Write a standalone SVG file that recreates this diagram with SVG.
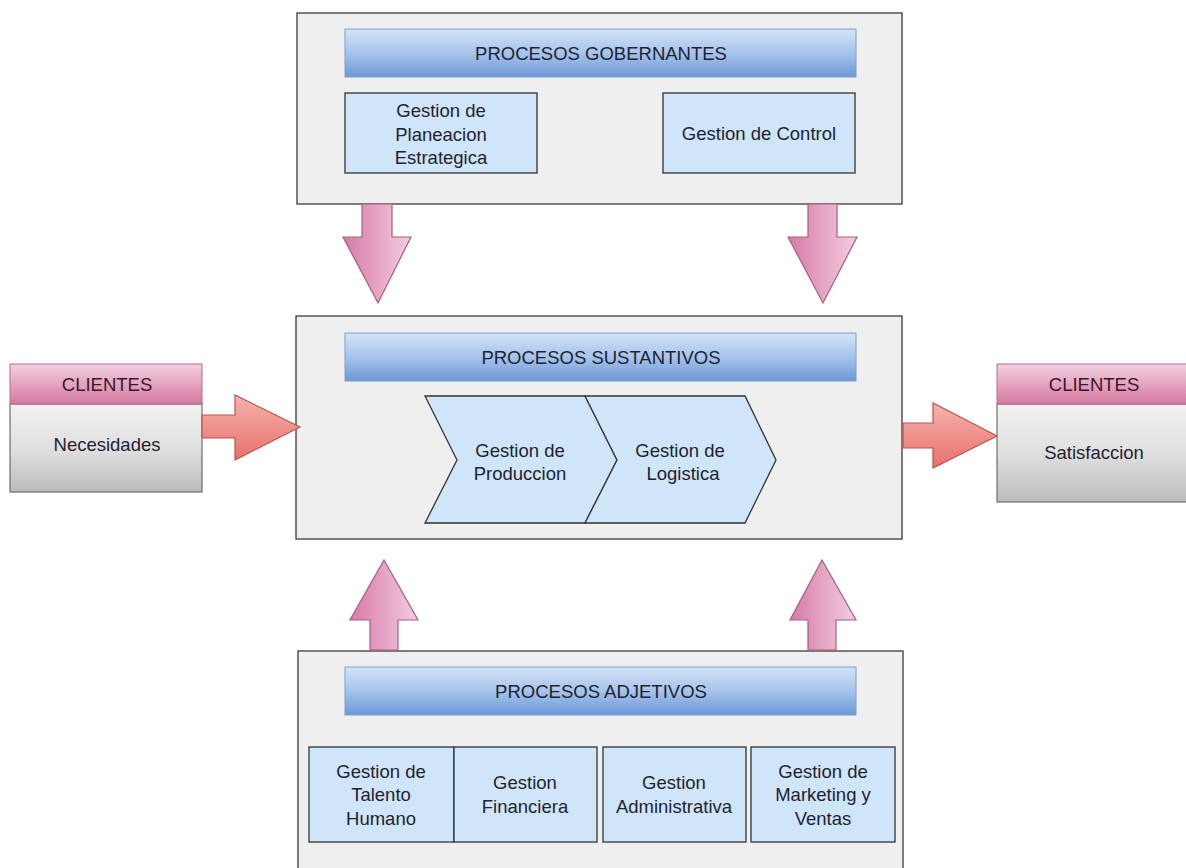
<svg xmlns="http://www.w3.org/2000/svg" width="1186" height="868" viewBox="0 0 1186 868">
<defs>
<linearGradient id="barG" x1="0" y1="0" x2="0" y2="1">
<stop offset="0" stop-color="#d3e3f7"/><stop offset="0.5" stop-color="#a6c4ec"/><stop offset="1" stop-color="#6b98d6"/>
</linearGradient>
<linearGradient id="pinkH" x1="0" y1="0" x2="0" y2="1">
<stop offset="0" stop-color="#f3d0e1"/><stop offset="1" stop-color="#d5789f"/>
</linearGradient>
<linearGradient id="grayB" x1="0" y1="0" x2="0" y2="1">
<stop offset="0" stop-color="#f2f2f2"/><stop offset="0.5" stop-color="#e0e0e0"/><stop offset="1" stop-color="#bcbcbc"/>
</linearGradient>
<linearGradient id="vArr" x1="0" y1="0" x2="1" y2="0">
<stop offset="0" stop-color="#d77aa7"/><stop offset="1" stop-color="#f3cde0"/>
</linearGradient>
<linearGradient id="hArr" x1="0" y1="0" x2="0" y2="1">
<stop offset="0" stop-color="#f6b3ac"/><stop offset="1" stop-color="#e8706c"/>
</linearGradient>
</defs>
<style>
.outer{fill:#efefef;stroke:#3a3a3a;stroke-width:1.3}
.bar{fill:url(#barG);stroke:#7f9fcc;stroke-width:1}
.sub{fill:#cfe5fa;stroke:#333;stroke-width:1.3}
.t{font-family:"Liberation Sans",Arial,sans-serif;font-size:18.5px;fill:#1f2330;text-anchor:middle}
.tc{font-family:"Liberation Sans",Arial,sans-serif;font-size:18.5px;fill:#3b1828;text-anchor:middle}
.ch{fill:url(#pinkH);stroke:#b07090;stroke-width:1}
.cb{fill:url(#grayB);stroke:#555;stroke-width:1}
.va{fill:url(#vArr);stroke:#a3607f;stroke-width:1.2}
.ha{fill:url(#hArr);stroke:#b9534f;stroke-width:1.2}
</style>

<g id="gobernantes">
<rect class="outer" x="297" y="13" width="605" height="191"/>
<rect class="bar" x="345" y="29" width="511" height="48"/>
<text class="t" x="601" y="60">PROCESOS GOBERNANTES</text>
</g>
<g id="planeacion">
<rect class="sub" x="345" y="93" width="192" height="80"/>
<text class="t" x="441" y="117">Gestion de</text>
<text class="t" x="441" y="141">Planeacion</text>
<text class="t" x="441" y="164">Estrategica</text>
</g>
<g id="control">
<rect class="sub" x="663" y="93" width="192" height="80"/>
<text class="t" x="759" y="140">Gestion de Control</text>
</g>

<g id="sustantivos">
<rect class="outer" x="296" y="316" width="606" height="223"/>
<rect class="bar" x="345" y="333" width="511" height="48"/>
<text class="t" x="601" y="364">PROCESOS SUSTANTIVOS</text>
</g>
<g id="produccion">
<polygon class="sub" points="425,396 585,396 617,460 585,523 425,523 457,460"/>
<text class="t" x="520" y="457">Gestion de</text>
<text class="t" x="520" y="480">Produccion</text>
</g>
<g id="logistica">
<polygon class="sub" points="585,396 745,396 776,460 745,523 585,523 617,460"/>
<text class="t" x="680" y="457">Gestion de</text>
<text class="t" x="683" y="480">Logistica</text>
</g>

<g id="adjetivos">
<rect class="outer" x="298" y="651" width="605" height="230"/>
<rect class="bar" x="345" y="667" width="511" height="48"/>
<text class="t" x="601" y="698">PROCESOS ADJETIVOS</text>
</g>
<g id="talento">
<rect class="sub" x="309" y="747" width="145" height="95"/>
<text class="t" x="381" y="778">Gestion de</text>
<text class="t" x="381" y="801">Talento</text>
<text class="t" x="381" y="825">Humano</text>
</g>
<g id="financiera">
<rect class="sub" x="454" y="747" width="143" height="95"/>
<text class="t" x="525" y="789">Gestion</text>
<text class="t" x="525" y="813">Financiera</text>
</g>
<g id="administrativa">
<rect class="sub" x="603" y="747" width="143" height="95"/>
<text class="t" x="674" y="789">Gestion</text>
<text class="t" x="674" y="813">Administrativa</text>
</g>
<g id="marketing">
<rect class="sub" x="751" y="747" width="144" height="95"/>
<text class="t" x="823" y="778">Gestion de</text>
<text class="t" x="823" y="801">Marketing y</text>
<text class="t" x="823" y="825">Ventas</text>
</g>

<g id="clientes-necesidades">
<rect class="cb" x="10" y="404" width="192" height="88"/>
<rect class="ch" x="10" y="364" width="192" height="40"/>
<text class="tc" x="107" y="391">CLIENTES</text>
<text class="t" x="107" y="451">Necesidades</text>
</g>
<g id="clientes-satisfaccion">
<rect class="cb" x="997" y="404" width="194" height="98"/>
<rect class="ch" x="997" y="364" width="194" height="40"/>
<text class="tc" x="1094" y="391">CLIENTES</text>
<text class="t" x="1094" y="459">Satisfaccion</text>
</g>

<g id="connectors">
<polygon class="va" points="362,204 392,204 392,237 411,237 378,303 343,237 362,237"/>
<polygon class="va" points="808,204 837,204 837,237 857,237 823,303 788,237 808,237"/>
<polygon class="va" points="370,650 398,650 398,620 418,620 384,560 350,620 370,620"/>
<polygon class="va" points="808,650 836,650 836,620 856,620 822,560 790,620 808,620"/>
<polygon class="ha" points="202,415 235,415 235,395 300,427 235,460 235,438 202,438"/>
<polygon class="ha" points="903,423 933,423 933,403 997,436 933,468 933,448 903,448"/>
</g>
</svg>
